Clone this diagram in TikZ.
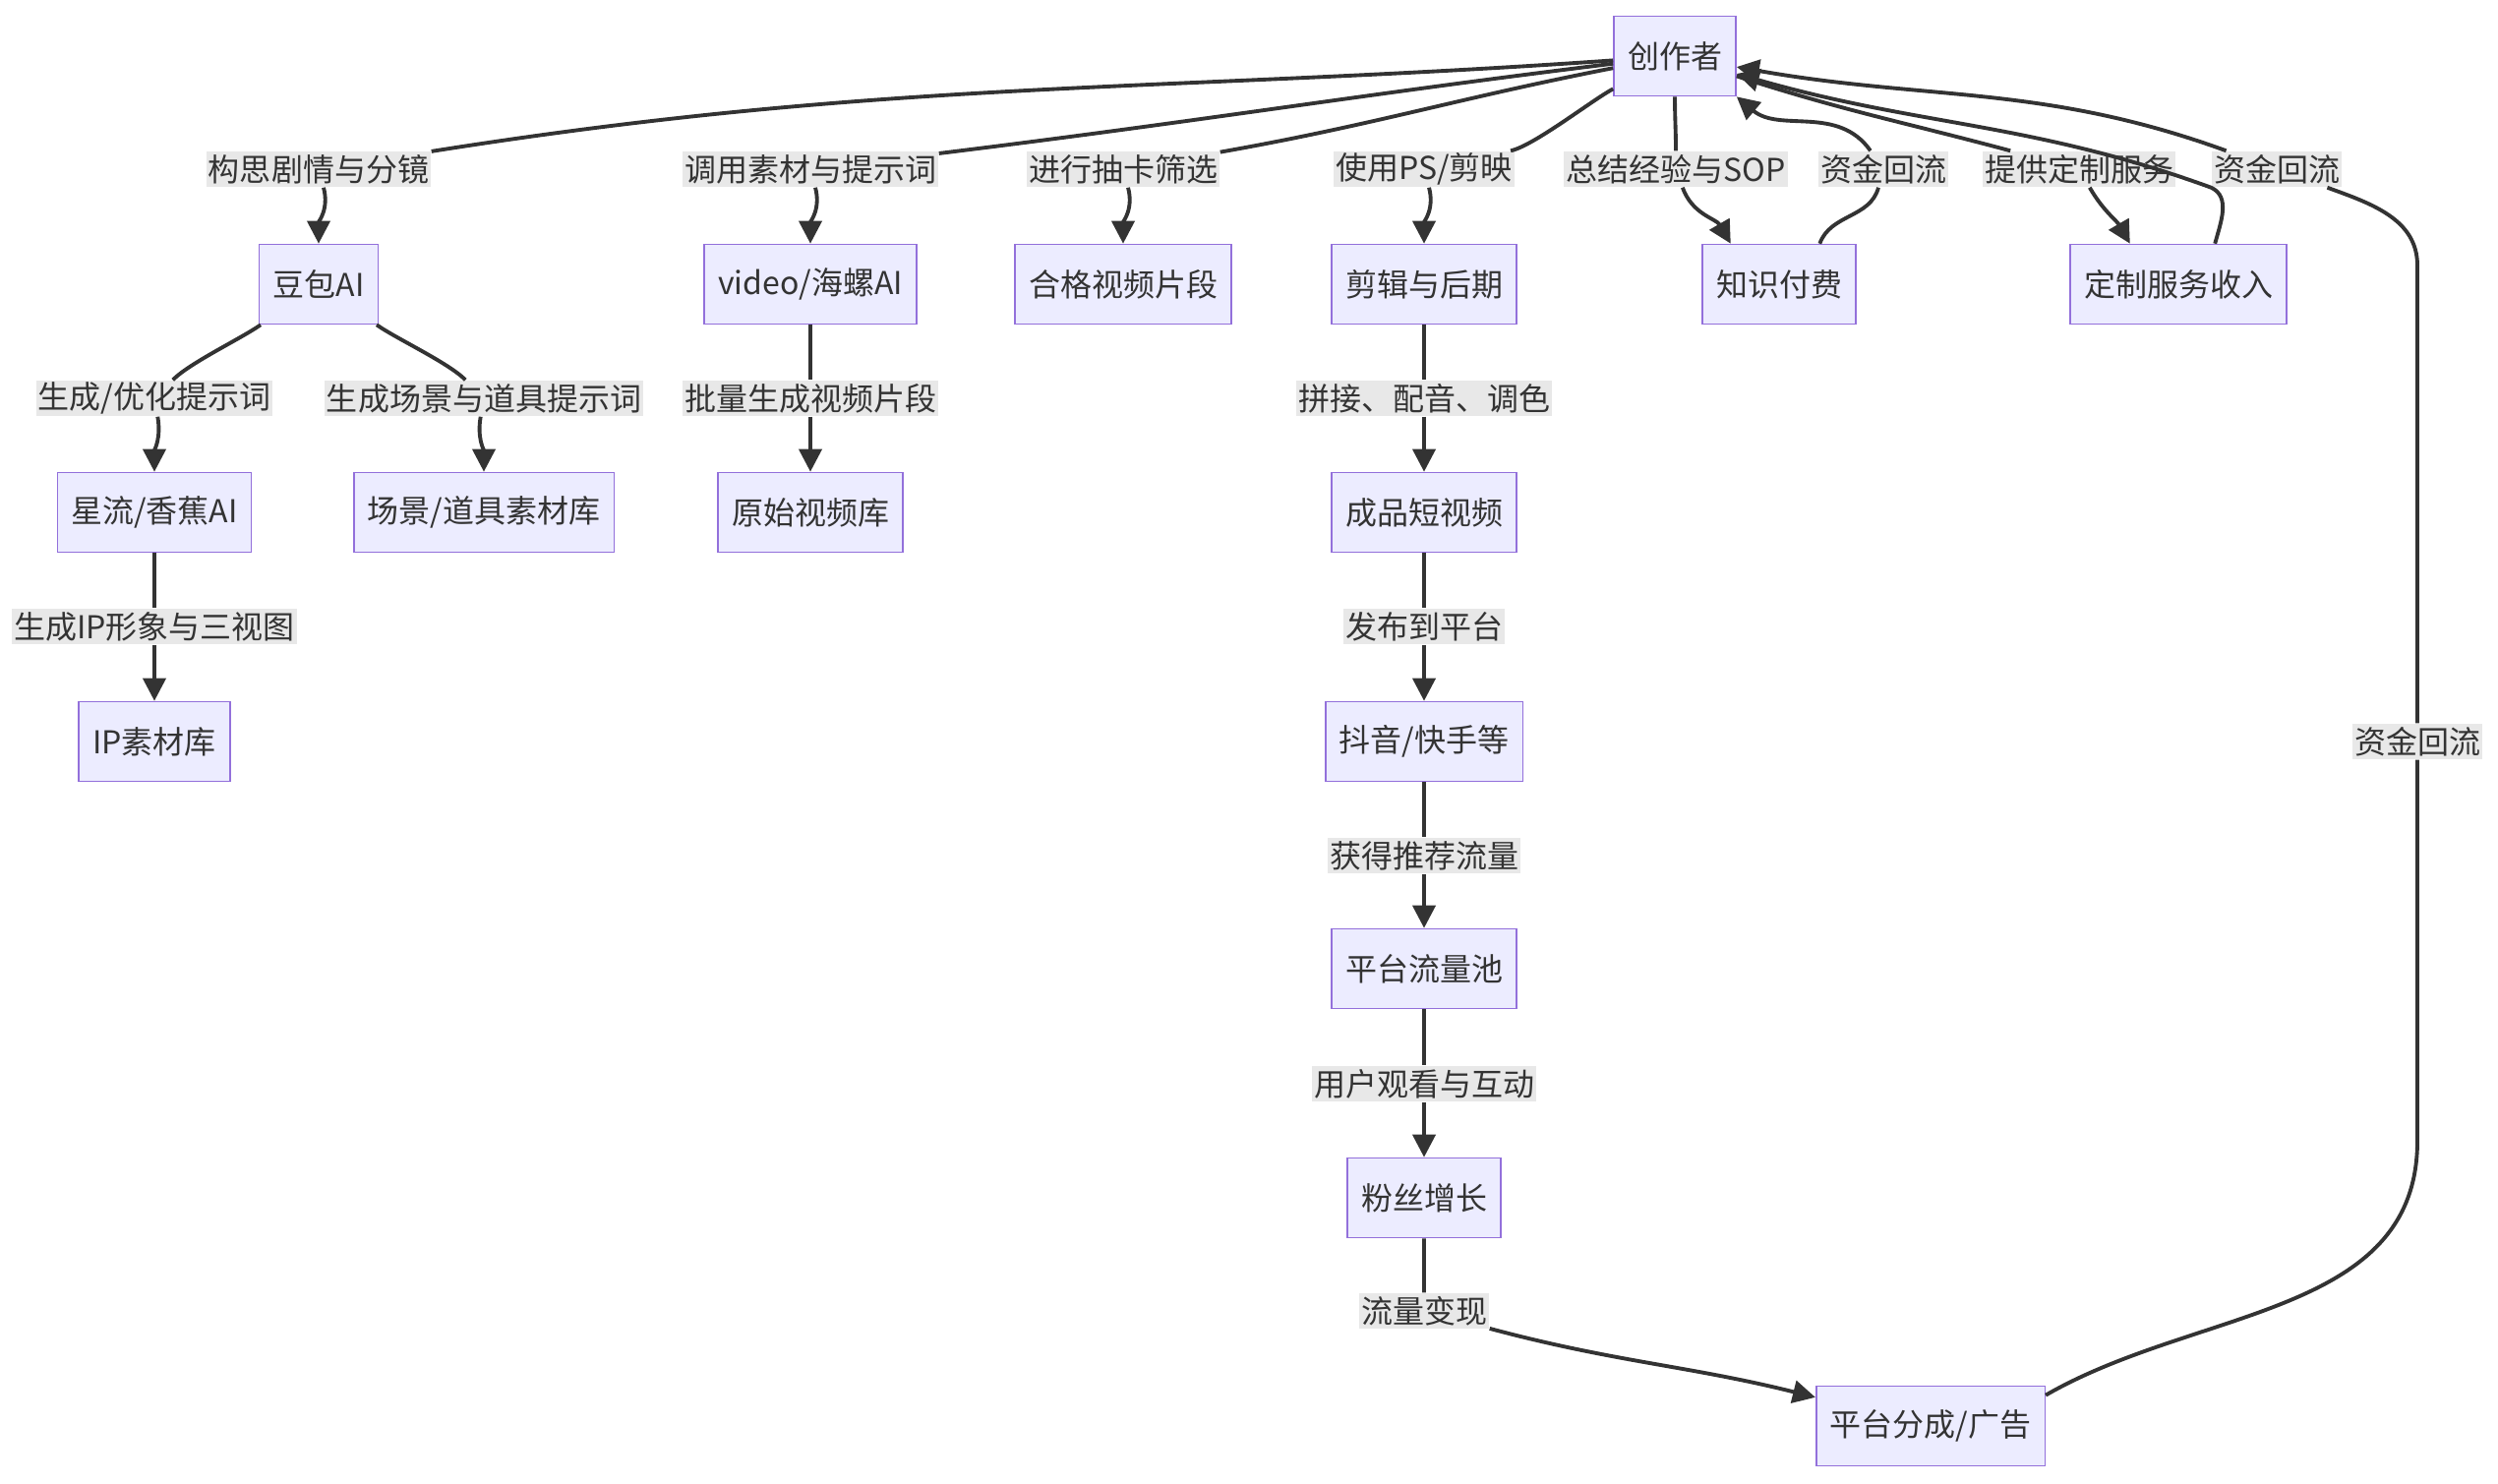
\documentclass[tikz,border=0pt]{standalone}
\usepackage{fontspec}
\setmainfont{Noto Sans CJK SC}
\usetikzlibrary{arrows.meta}
\definecolor{boxfill}{HTML}{ECECFF}
\definecolor{boxline}{HTML}{9370DB}
\definecolor{ink}{HTML}{333333}
\definecolor{lblfill}{HTML}{E8E8E8}
\begin{document}
\begin{tikzpicture}[x=0.01cm,y=-0.01cm,
  font=\fontsize{9.1pt}{11pt}\selectfont,text=ink,
  box/.style={draw=boxline,fill=boxfill,line width=0.45pt,inner xsep=0.14cm,inner ysep=0pt,minimum height=0.81cm},
  lbl/.style={fill=lblfill,inner xsep=0.02cm,inner ysep=0pt,minimum height=0.36cm},
  flow/.style={draw=ink,line width=1.1pt,-{Triangle[length=0.23cm,width=0.23cm]}}]
\useasboundingbox (0,0) rectangle (2540,1508);
% boxes
\node[box] (cz) at (1703,57) {创作者};
\node[box] (db) at (324,289) {豆包AI};
\node[box] (vh) at (824,289) {video/海螺AI};
\node[box] (hg) at (1142,289) {合格视频片段};
\node[box] (jj) at (1448,289) {剪辑与后期};
\node[box] (zs) at (1809,289) {知识付费};
\node[box] (dz) at (2215,289) {定制服务收入};
\node[box] (xl) at (157,521) {星流/香蕉AI};
\node[box] (cj) at (492,521) {场景/道具素材库};
\node[box] (ys) at (824,521) {原始视频库};
\node[box] (cp) at (1448,521) {成品短视频};
\node[box] (ip) at (157,754) {IP素材库};
\node[box] (dy) at (1448,754) {抖音/快手等};
\node[box] (ll) at (1448,985) {平台流量池};
\node[box] (fs) at (1448,1218) {粉丝增长};
\node[box] (pf) at (1963,1450) {平台分成/广告};
% edge labels
\node[lbl] (e1) at (324,172) {构思剧情与分镜};
\node[lbl] (e2) at (824,172) {调用素材与提示词};
\node[lbl] (e3) at (1142,172) {进行抽卡筛选};
\node[lbl] (e4) at (1448,172) {使用PS/剪映};
\node[lbl] (e5) at (1704,172) {总结经验与SOP};
\node[lbl] (e6) at (1915,172) {资金回流};
\node[lbl] (e7) at (2114,172) {提供定制服务};
\node[lbl] (e8) at (2315,172) {资金回流};
\node[lbl] (e9) at (2458,754) {资金回流};
\node[lbl] (e10) at (157,405) {生成/优化提示词};
\node[lbl] (e11) at (492,405) {生成场景与道具提示词};
\node[lbl] (e12) at (824,405) {批量生成视频片段};
\node[lbl] (e13) at (1448,405) {拼接、配音、调色};
\node[lbl] (e14) at (157,637) {生成IP形象与三视图};
\node[lbl] (e15) at (1448,637) {发布到平台};
\node[lbl] (e16) at (1448,870) {获得推荐流量};
\node[lbl] (e17) at (1448,1102) {用户观看与互动};
\node[lbl] (e18) at (1448,1333) {流量变现};
\coordinate (r1) at (2458,1160);
\coordinate (r2) at (2458,270);
% creator to first row
\draw[flow] (cz) to[out=184,in=9] (e1) to[out=-75,in=90] (db);
\draw[flow] (cz) to[out=187,in=7] (e2) to[out=-75,in=90] (vh);
\draw[flow] (cz) to[out=191,in=10] (e3) to[out=-75,in=90] (hg);
\draw[flow] (cz) to[out=208,in=12,looseness=0.5] (e4) to[out=-75,in=90] (jj);
\draw[flow] (cz) to[out=-90,in=90] (e5) to[out=-70,in=120] (zs.140);
\draw[flow] (zs.45) to[out=70,in=-105] (e6) to[out=125,in=-40] (cz.south east);
\draw[flow] (cz) to[out=-18,in=165] (e7) to[out=-60,in=120] (dz.140);
\draw[flow] (dz.48) to[out=75,in=-25] (e8.south west) to[out=160,in=-16] (cz);
\draw[flow] (pf.15) to[out=30,in=-90] (r1) -- (e9) -- (r2) to[out=90,in=-20] (e8) to[out=160,in=-10] (cz);
% left branch
\draw[flow] (db) to[out=215,in=45,looseness=0.6] (e10) to[out=-80,in=90] (xl);
\draw[flow] (db) to[out=-35,in=135,looseness=0.6] (e11) to[out=-100,in=90] (cj);
\draw[flow] (xl) -- (e14) -- (ip);
\draw[flow] (vh) -- (e12) -- (ys);
% main chain
\draw[flow] (jj) -- (e13) -- (cp);
\draw[flow] (cp) -- (e15) -- (dy);
\draw[flow] (dy) -- (e16) -- (ll);
\draw[flow] (ll) -- (e17) -- (fs);
\draw[flow] (fs) -- (e18) to[out=-15,in=166] (pf);
\end{tikzpicture}
\end{document}
